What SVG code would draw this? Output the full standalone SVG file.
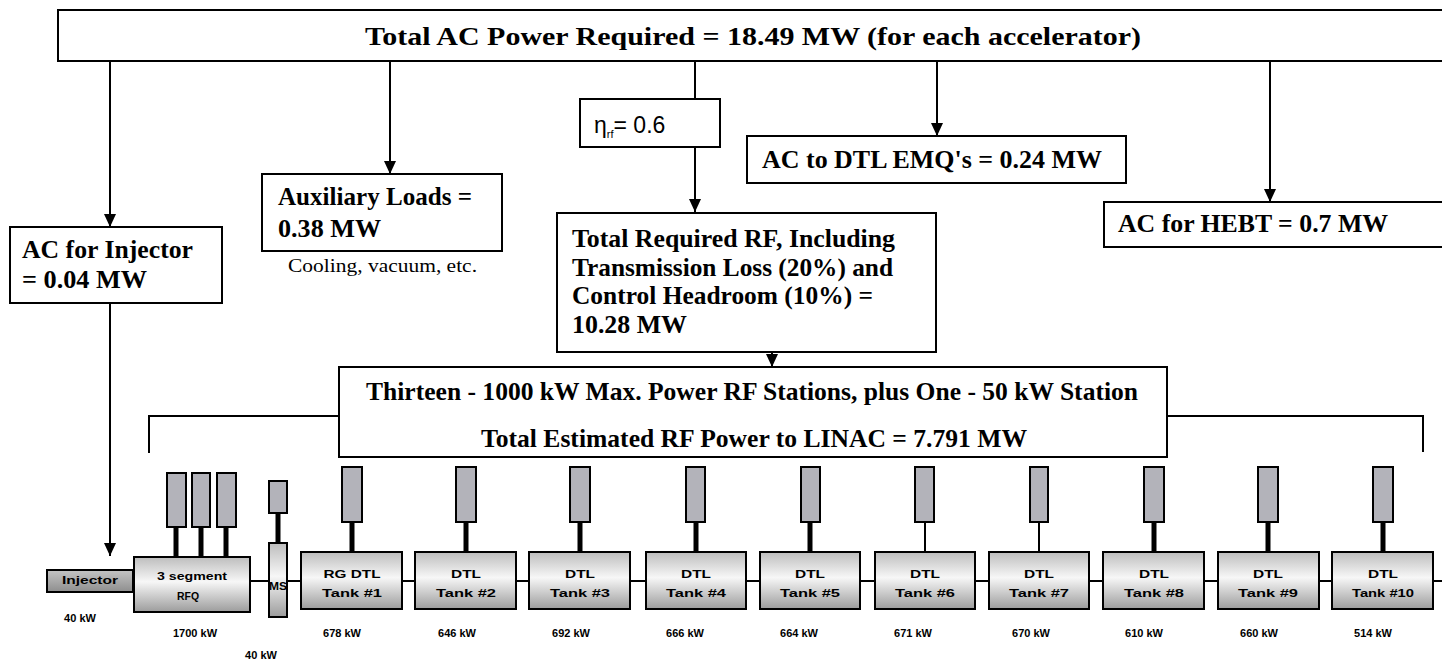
<svg xmlns="http://www.w3.org/2000/svg" width="1442" height="662" viewBox="0 0 1442 662">
<style>
.box{fill:#fff;stroke:#000;stroke-width:2}
.t{font-family:"Liberation Serif",serif;font-weight:bold;font-size:26px;fill:#000}
.s{font-family:"Liberation Serif",serif;font-size:18px;fill:#000}
.ln{stroke:#000;stroke-width:2;fill:none}
.ar{stroke:#000;stroke-width:2;fill:none;marker-end:url(#ah)}
.tank{fill:url(#tg);stroke:#000;stroke-width:2}
.kly{fill:#b3b3ba;stroke:#000;stroke-width:2}
.thick{stroke:#000;stroke-width:5}
.thin{stroke:#000;stroke-width:2}
.bt{font-family:"Liberation Sans",Arial,sans-serif;font-size:11px;font-weight:bold;fill:#000;text-anchor:middle}
.kw{font-family:"Liberation Sans",Arial,sans-serif;font-size:11px;font-weight:bold;fill:#000;text-anchor:middle}
</style>
<defs>
<marker id="ah" markerUnits="userSpaceOnUse" markerWidth="14" markerHeight="14" refX="13" refY="7" orient="auto">
<path d="M0,1 L13,7 L0,13 z" fill="#000"/>
</marker>
<linearGradient id="tg" x1="0" y1="0" x2="0" y2="1">
<stop offset="0" stop-color="#bdbdbd"/>
<stop offset="0.45" stop-color="#f7f7f7"/>
<stop offset="1" stop-color="#9c9c9c"/>
</linearGradient>
<linearGradient id="ig" x1="0" y1="0" x2="0" y2="1">
<stop offset="0" stop-color="#c4c4c4"/>
<stop offset="1" stop-color="#8e8e8e"/>
</linearGradient>
</defs>
<rect width="1442" height="662" fill="#fff"/>

<g id="connectors">
<path class="ar" d="M110,61 V227"/>
<path class="ar" d="M390,61 V174"/>
<path class="ln" d="M695,61 V99"/>
<path class="ar" d="M695,147 V212"/>
<path class="ar" d="M937,61 V136"/>
<path class="ar" d="M1270,61 V202"/>
<path class="ar" d="M110,303 V556"/>
<path class="ar" d="M772,329 V367"/>
<path class="ln" d="M149,453 V416 H339"/>
<path class="ln" d="M1167,416 H1423 V452"/>
<path class="ln" d="M133,581 H1442"/>
</g>

<g id="total-ac">
<rect class="box" x="58" y="10" width="1390" height="51"/>
<text class="t" x="365" y="45" textLength="776" lengthAdjust="spacingAndGlyphs">Total AC Power Required = 18.49 MW (for each accelerator)</text>
</g>

<g id="ac-injector">
<rect class="box" x="10" y="227" width="212" height="76"/>
<text class="t" x="22" y="258" textLength="171" lengthAdjust="spacingAndGlyphs">AC for Injector</text>
<text class="t" x="22" y="288" textLength="125" lengthAdjust="spacingAndGlyphs">= 0.04 MW</text>
</g>

<g id="aux-loads">
<rect class="box" x="262" y="174" width="240" height="77"/>
<text class="t" x="278" y="205" textLength="194" lengthAdjust="spacingAndGlyphs">Auxiliary Loads =</text>
<text class="t" x="278" y="237" textLength="103" lengthAdjust="spacingAndGlyphs">0.38 MW</text>
<text class="s" x="288" y="272" textLength="189" lengthAdjust="spacingAndGlyphs">Cooling, vacuum, etc.</text>
</g>

<g id="eta">
<rect class="box" x="580" y="99" width="140" height="48"/>
<text font-family="'Liberation Sans',Arial,sans-serif" font-size="23" x="594" y="133"><tspan>η</tspan><tspan font-size="11" dy="5">rf</tspan><tspan dy="-5">= 0.6</tspan></text>
</g>

<g id="total-rf">
<rect class="box" x="557" y="213" width="379" height="139"/>
<text class="t" x="572" y="247" textLength="323" lengthAdjust="spacingAndGlyphs">Total Required RF, Including</text>
<text class="t" x="572" y="276" textLength="321" lengthAdjust="spacingAndGlyphs">Transmission Loss (20%) and</text>
<text class="t" x="572" y="304" textLength="301" lengthAdjust="spacingAndGlyphs">Control Headroom (10%) =</text>
<text class="t" x="572" y="333" textLength="115" lengthAdjust="spacingAndGlyphs">10.28 MW</text>
</g>

<g id="ac-emq">
<rect class="box" x="747" y="136" width="379" height="47"/>
<text class="t" x="762" y="168" textLength="340" lengthAdjust="spacingAndGlyphs">AC to DTL EMQ's = 0.24 MW</text>
</g>

<g id="ac-hebt">
<rect class="box" x="1104" y="202" width="345" height="45"/>
<text class="t" x="1118" y="232" textLength="270" lengthAdjust="spacingAndGlyphs">AC for HEBT = 0.7 MW</text>
</g>

<g id="rf-stations">
<rect class="box" x="339" y="367" width="828" height="90"/>
<text class="t" x="366" y="400" textLength="772" lengthAdjust="spacingAndGlyphs">Thirteen - 1000 kW Max. Power RF Stations, plus One - 50 kW Station</text>
<text class="t" x="481" y="447" textLength="546" lengthAdjust="spacingAndGlyphs">Total Estimated RF Power to LINAC = 7.791 MW</text>
</g>

<g id="injector">
<rect x="47" y="570" width="86" height="22" fill="url(#ig)" stroke="#000" stroke-width="2"/>
<text class="bt" x="90" y="584" textLength="56" lengthAdjust="spacingAndGlyphs">Injector</text>
<text class="kw" x="80" y="622">40 kW</text>
</g>

<g id="rfq">
<line class="thick" x1="176" y1="527" x2="176" y2="557"/>
<line class="thick" x1="201" y1="527" x2="201" y2="557"/>
<line class="thick" x1="226" y1="527" x2="226" y2="557"/>
<rect class="kly" x="167" y="473" width="19" height="54"/>
<rect class="kly" x="192" y="473" width="18" height="54"/>
<rect class="kly" x="217" y="473" width="19" height="54"/>
<rect class="tank" x="134" y="557" width="116" height="55"/>
<text class="bt" x="192" y="580" textLength="70" lengthAdjust="spacingAndGlyphs">3 segment</text>
<text class="bt" x="188" y="600" textLength="22" lengthAdjust="spacingAndGlyphs">RFQ</text>
<text class="kw" x="195" y="637">1700 kW</text>
</g>

<g id="ms">
<line class="thick" x1="278" y1="513" x2="278" y2="543"/>
<rect class="kly" x="269" y="481" width="18" height="32"/>
<rect class="tank" x="269" y="543" width="18" height="74"/>
<text class="bt" x="278" y="590" textLength="18" lengthAdjust="spacingAndGlyphs">MS</text>
<text class="kw" x="261" y="659">40 kW</text>
</g>

<g id="tank1">
<line class="thick" x1="352" y1="522" x2="352" y2="552"/>
<rect class="kly" x="342" y="467" width="20" height="55"/>
<rect class="tank" x="301" y="552" width="101" height="57"/>
<text class="bt" x="352" y="578" textLength="57" lengthAdjust="spacingAndGlyphs">RG DTL</text>
<text class="bt" x="352" y="597" textLength="60" lengthAdjust="spacingAndGlyphs">Tank #1</text>
<text class="kw" x="342" y="637">678 kW</text>
</g>

<g id="tank2">
<line class="thick" x1="466" y1="522" x2="466" y2="552"/>
<rect class="kly" x="456" y="467" width="20" height="55"/>
<rect class="tank" x="415" y="552" width="101" height="57"/>
<text class="bt" x="466" y="578" textLength="30" lengthAdjust="spacingAndGlyphs">DTL</text>
<text class="bt" x="466" y="597" textLength="60" lengthAdjust="spacingAndGlyphs">Tank #2</text>
<text class="kw" x="457" y="637">646 kW</text>
</g>

<g id="tank3">
<line class="thick" x1="580" y1="522" x2="580" y2="552"/>
<rect class="kly" x="570" y="467" width="20" height="55"/>
<rect class="tank" x="529" y="552" width="101" height="57"/>
<text class="bt" x="580" y="578" textLength="30" lengthAdjust="spacingAndGlyphs">DTL</text>
<text class="bt" x="580" y="597" textLength="60" lengthAdjust="spacingAndGlyphs">Tank #3</text>
<text class="kw" x="571" y="637">692 kW</text>
</g>

<g id="tank4">
<line class="thick" x1="696" y1="522" x2="696" y2="552"/>
<rect class="kly" x="686" y="467" width="19" height="55"/>
<rect class="tank" x="646" y="552" width="100" height="57"/>
<text class="bt" x="696" y="578" textLength="30" lengthAdjust="spacingAndGlyphs">DTL</text>
<text class="bt" x="696" y="597" textLength="60" lengthAdjust="spacingAndGlyphs">Tank #4</text>
<text class="kw" x="685" y="637">666 kW</text>
</g>

<g id="tank5">
<line class="thick" x1="810" y1="522" x2="810" y2="552"/>
<rect class="kly" x="801" y="467" width="19" height="55"/>
<rect class="tank" x="760" y="552" width="100" height="57"/>
<text class="bt" x="810" y="578" textLength="30" lengthAdjust="spacingAndGlyphs">DTL</text>
<text class="bt" x="810" y="597" textLength="60" lengthAdjust="spacingAndGlyphs">Tank #5</text>
<text class="kw" x="799" y="637">664 kW</text>
</g>

<g id="tank6">
<line class="thin" x1="925" y1="522" x2="925" y2="552"/>
<rect class="kly" x="915" y="467" width="19" height="55"/>
<rect class="tank" x="875" y="552" width="100" height="57"/>
<text class="bt" x="925" y="578" textLength="30" lengthAdjust="spacingAndGlyphs">DTL</text>
<text class="bt" x="925" y="597" textLength="60" lengthAdjust="spacingAndGlyphs">Tank #6</text>
<text class="kw" x="913" y="637">671 kW</text>
</g>

<g id="tank7">
<line class="thin" x1="1039" y1="522" x2="1039" y2="552"/>
<rect class="kly" x="1030" y="467" width="18" height="55"/>
<rect class="tank" x="989" y="552" width="100" height="57"/>
<text class="bt" x="1039" y="578" textLength="30" lengthAdjust="spacingAndGlyphs">DTL</text>
<text class="bt" x="1039" y="597" textLength="60" lengthAdjust="spacingAndGlyphs">Tank #7</text>
<text class="kw" x="1031" y="637">670 kW</text>
</g>

<g id="tank8">
<line class="thick" x1="1154" y1="522" x2="1154" y2="552"/>
<rect class="kly" x="1144" y="467" width="20" height="55"/>
<rect class="tank" x="1103" y="552" width="101" height="57"/>
<text class="bt" x="1154" y="578" textLength="30" lengthAdjust="spacingAndGlyphs">DTL</text>
<text class="bt" x="1154" y="597" textLength="60" lengthAdjust="spacingAndGlyphs">Tank #8</text>
<text class="kw" x="1144" y="637">610 kW</text>
</g>

<g id="tank9">
<line class="thick" x1="1268" y1="522" x2="1268" y2="552"/>
<rect class="kly" x="1258" y="467" width="20" height="55"/>
<rect class="tank" x="1218" y="552" width="101" height="57"/>
<text class="bt" x="1268" y="578" textLength="30" lengthAdjust="spacingAndGlyphs">DTL</text>
<text class="bt" x="1268" y="597" textLength="60" lengthAdjust="spacingAndGlyphs">Tank #9</text>
<text class="kw" x="1259" y="637">660 kW</text>
</g>

<g id="tank10">
<line class="thick" x1="1383" y1="522" x2="1383" y2="552"/>
<rect class="kly" x="1373" y="467" width="20" height="55"/>
<rect class="tank" x="1332" y="552" width="101" height="57"/>
<text class="bt" x="1383" y="578" textLength="30" lengthAdjust="spacingAndGlyphs">DTL</text>
<text class="bt" x="1383" y="597" textLength="62" lengthAdjust="spacingAndGlyphs">Tank #10</text>
<text class="kw" x="1373" y="637">514 kW</text>
</g>
</svg>
